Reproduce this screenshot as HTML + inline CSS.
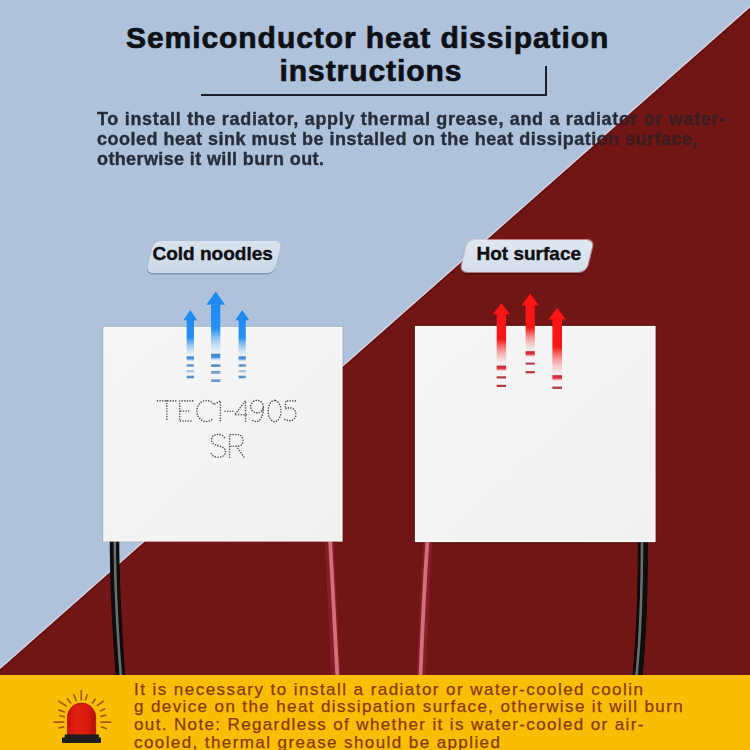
<!DOCTYPE html>
<html><head><meta charset="utf-8">
<style>
html,body{margin:0;padding:0;width:750px;height:750px;overflow:hidden;background:#aec3db;}
#wrap{position:relative;width:750px;height:750px;overflow:hidden;font-family:"Liberation Sans",sans-serif;}
svg.bg{position:absolute;left:0;top:0;}
.t{position:absolute;white-space:nowrap;line-height:1;}
.title{font-weight:bold;font-size:30px;color:#0e1117;letter-spacing:0.94px;-webkit-text-stroke:0.7px #0e1117;}
.para{font-weight:bold;font-size:18px;line-height:18px;white-space:nowrap;letter-spacing:0.68px;-webkit-text-stroke:0.4px transparent;}
.pill{position:absolute;height:32px;border-radius:7px;transform:skewX(-14deg);}
.lab{font-weight:bold;font-size:19px;color:#0d0f14;-webkit-text-stroke:0.4px #0d0f14;}
.ban{font-size:17px;color:#8a3908;letter-spacing:1.39px;-webkit-text-stroke:0.25px #8a3908;}
</style></head>
<body><div id="wrap">
<svg class="bg" width="750" height="750" viewBox="0 0 750 750">
  <defs>
    <filter id="blr2" x="-50%" y="-10%" width="200%" height="120%"><feGaussianBlur stdDeviation="0.4"/></filter>
    <filter id="blr" x="-50%" y="-5%" width="200%" height="110%"><feGaussianBlur stdDeviation="0.6"/></filter>
    <linearGradient id="gB" x1="0" y1="0" x2="0" y2="1">
      <stop offset="0" stop-color="#1e8af4"/><stop offset="0.5" stop-color="#2890f0"/><stop offset="1" stop-color="#9acbf8" stop-opacity="0.05"/>
    </linearGradient>
    <linearGradient id="gBd" x1="0" y1="0" x2="0" y2="1">
      <stop offset="0" stop-color="#4a82bb"/><stop offset="0.5" stop-color="#3d93e6"/><stop offset="1" stop-color="#8cc4f8" stop-opacity="0"/>
    </linearGradient>
    <linearGradient id="gR" x1="0" y1="0" x2="0" y2="1">
      <stop offset="0" stop-color="#ff1212"/><stop offset="0.5" stop-color="#f51818"/><stop offset="1" stop-color="#f8b0b0" stop-opacity="0.05"/>
    </linearGradient>
    <linearGradient id="gRd" x1="0" y1="0" x2="0" y2="1">
      <stop offset="0" stop-color="#b8283a"/><stop offset="0.5" stop-color="#e83040"/><stop offset="1" stop-color="#f8a0a0" stop-opacity="0"/>
    </linearGradient>
    <linearGradient id="gMod" x1="0" y1="0" x2="1" y2="1">
      <stop offset="0" stop-color="#f6f6f6"/><stop offset="1" stop-color="#f1f1f1"/>
    </linearGradient>
    <linearGradient id="gDome" x1="0" y1="0" x2="1" y2="0">
      <stop offset="0" stop-color="#c81408"/><stop offset="0.3" stop-color="#e0200e"/><stop offset="0.7" stop-color="#d81a0a"/><stop offset="1" stop-color="#b01008"/>
    </linearGradient>
  </defs>
  <rect x="0" y="0" width="750" height="750" fill="#aec3db"/>
  <polygon points="750,7.5 750,750 0,750 0,669.2" fill="#711515"/>
  <line x1="750" y1="6.6" x2="0" y2="668.3" stroke="#e6d3dc" stroke-width="1.3" opacity="0.8"/>
  <line x1="750" y1="8.8" x2="0" y2="670.5" stroke="#5a0c0c" stroke-width="1.5" opacity="0.55"/>

  <!-- header bracket -->
  <rect x="201" y="94" width="346" height="2" fill="#1b2030"/>
  <rect x="545" y="66" width="2" height="30" fill="#1b2030"/>

  <!-- wires -->
  <g filter="url(#blr)">
  <path d="M114.5,538 C114.5,590 117,630 120.5,676" stroke="#080808" stroke-width="9.5" fill="none"/>
  <path d="M114.8,538 C114.8,590 117.3,630 120.8,676" stroke="#6a6c6e" stroke-width="2.6" fill="none"/>
  <path d="M329,538 L336,676" stroke="#8a2029" stroke-width="9" fill="none" opacity="0.85"/>
  <path d="M330,538 L337.3,676" stroke="#d27078" stroke-width="3.8" fill="none"/>
  <path d="M428.2,538 Q424,600 421.5,676" stroke="#8a2029" stroke-width="9" fill="none" opacity="0.85"/>
  <path d="M427.6,538 Q423.4,600 420.5,676" stroke="#d27078" stroke-width="3.8" fill="none"/>
  <path d="M643,538 C643,600 641,640 637.5,676" stroke="#080808" stroke-width="10" fill="none"/>
  <path d="M642,538 C642,600 640,640 636.5,676" stroke="#6a6c6e" stroke-width="2.6" fill="none"/>
  </g>

  <!-- modules -->
  <rect x="103.3" y="326.8" width="239.2" height="214.5" fill="none" stroke="#000" stroke-opacity="0.18" stroke-width="1.5"/>
  <rect x="103.8" y="327.3" width="238.2" height="213.7" fill="url(#gMod)" stroke="#fbfbfb" stroke-width="1.2"/>
  <rect x="415" y="326" width="240.5" height="216" fill="none" stroke="#000" stroke-opacity="0.25" stroke-width="1.5"/>
  <rect x="415.5" y="326.5" width="239.5" height="215" fill="url(#gMod)" stroke="#fbfbfb" stroke-width="1.2"/>

  <!-- arrows -->
  <g filter="url(#blr2)">
  <path d="M190.3,309.9 L197.20,320.2 L183.40,320.2 Z" fill="#1f8cf3"/>
  <rect x="186.65" y="319.7" width="7.30" height="36.30" fill="url(#gB)"/>
  <rect x="186.65" y="356.3" width="7.30" height="5" fill="url(#gBd)" opacity="1"/>
  <rect x="186.65" y="364.3" width="7.30" height="2.4" fill="#4f86bd" opacity="0.9"/>
  <rect x="186.65" y="370" width="7.30" height="2.3" fill="#4f86bd" opacity="0.45"/>
  <rect x="186.65" y="375.7" width="7.30" height="2.6" fill="#4f86bd" opacity="0.9"/>
  <path d="M215.7,291.6 L225.00,304.8 L206.40,304.8 Z" fill="#1f8cf3"/>
  <rect x="211.05" y="304.3" width="9.30" height="49.20" fill="url(#gB)"/>
  <rect x="211.05" y="353.7" width="9.30" height="7" fill="url(#gBd)" opacity="1"/>
  <rect x="211.05" y="364.3" width="9.30" height="2.7" fill="#4f86bd" opacity="0.9"/>
  <rect x="211.05" y="371" width="9.30" height="2.7" fill="#4f86bd" opacity="0.8"/>
  <rect x="211.05" y="379.3" width="9.30" height="2.7" fill="#4f86bd" opacity="0.8"/>
  <path d="M242.2,310 L249.20,320.2 L235.20,320.2 Z" fill="#1f8cf3"/>
  <rect x="238.60" y="319.7" width="7.20" height="36.30" fill="url(#gB)"/>
  <rect x="238.60" y="356.3" width="7.20" height="5" fill="url(#gBd)" opacity="1"/>
  <rect x="238.60" y="364.3" width="7.20" height="2.4" fill="#4f86bd" opacity="0.9"/>
  <rect x="238.60" y="370" width="7.20" height="2.3" fill="#4f86bd" opacity="0.45"/>
  <rect x="238.60" y="375.7" width="7.20" height="2.6" fill="#4f86bd" opacity="0.9"/>
  <path d="M501.4,303.3 L510.20,314.3 L492.60,314.3 Z" fill="#ff1313"/>
  <rect x="496.70" y="313.8" width="9.40" height="51.70" fill="url(#gR)"/>
  <rect x="496.70" y="365.6" width="9.40" height="6" fill="url(#gRd)" opacity="1"/>
  <rect x="496.70" y="376.3" width="9.40" height="2.2" fill="#b22a3a" opacity="0.95"/>
  <rect x="496.70" y="384.8" width="9.40" height="2.2" fill="#b22a3a" opacity="0.95"/>
  <path d="M530.2,293.5 L538.90,305.5 L521.50,305.5 Z" fill="#ff1313"/>
  <rect x="525.60" y="305.0" width="9.20" height="46.20" fill="url(#gR)"/>
  <rect x="525.60" y="351.2" width="9.20" height="6" fill="url(#gRd)" opacity="1"/>
  <rect x="525.60" y="362.6" width="9.20" height="2" fill="#b22a3a" opacity="0.95"/>
  <rect x="525.60" y="371.1" width="9.20" height="2.2" fill="#b22a3a" opacity="0.95"/>
  <path d="M557.2,307.7 L566.00,319.5 L548.40,319.5 Z" fill="#ff1313"/>
  <rect x="552.40" y="319.0" width="9.60" height="56.20" fill="url(#gR)"/>
  <rect x="552.40" y="375.2" width="9.60" height="6" fill="url(#gRd)" opacity="1"/>
  <rect x="552.40" y="386.6" width="9.60" height="2.3" fill="#b22a3a" opacity="0.95"/>
  </g>

  <!-- dotted text -->
  <g fill="none" stroke="#555" stroke-width="1.6" stroke-linecap="round" stroke-dasharray="0.01 2.6">
    <path d="M157.5,400.9 H176.1 M166.9,400.9 V421.1"/>
    <path d="M192.7,400.9 H179.7 V421.1 H192.7 M181,411 H190.5"/>
    <path d="M213.1,403.6 A9.5,10.5 0 1 0 213.1,418.4"/>
    <path d="M215,404 L220.4,400.9 V421.1"/>
    <path d="M225,411.3 H233"/>
    <path d="M245.5,421.1 V400.9 L234.6,414.7 H249"/>
    <path d="M263.3,406.6 A6.3,6.3 0 1 0 250.7,406.6 A6.3,6.3 0 1 0 263.3,406.6 C263.6,415 260.5,421.6 256,421.6 C254.5,421.6 253,421 252.2,420"/>
    <path d="M274.6,400.4 A6.4,10.6 0 1 0 274.6,421.6 A6.4,10.6 0 1 0 274.6,400.4"/>
    <path d="M295.4,400.9 H285.8 L285.3,408.9 C290,406.5 296,408 295.9,414.7 C295.8,420 290,422.5 284.2,419"/>
    <path d="M224.5,437.5 C222.5,434.5 219,434.4 218,434.4 C214,434.4 211.5,436.5 211.5,440 C211.5,444 216,445 218.5,445.8 C222.5,447 225.5,448.5 225.5,451.5 C225.5,455.5 222,457.2 218.3,457.2 C215,457.2 212,456 211,453"/>
    <path d="M229.6,457.2 V434.6 H237 C241,434.6 243,437 243,440.5 C243,444 241,446.2 237,446.2 H229.6 M236.5,446.2 L244,457.2"/>
  </g>

  <!-- banner -->
  <rect x="0" y="675" width="750" height="75" fill="#f9be02"/>
  <!-- siren -->
  <g stroke="#ad5806" stroke-width="1.7" stroke-linecap="round">
    <path d="M81.3,690.7 V699.7 M73.8,694.9 L76.1,700.3 M87.1,694.9 L85.5,699.7 M67.4,698.7 L70.6,702.9 M58.9,701.3 L66.3,706.1 M95.1,699.2 L92.5,702.9 M103.1,701.3 L97.3,705.6 M58.9,709.9 L64.2,712 M104.7,708.8 L100.5,710.9 M59.9,715.7 L64.2,716.8 M105.8,715.2 L101,716.3 M54.1,722.1 H63.7 M101,722.1 H110.6 M58.9,728 L63.7,726.9 M101.5,726.9 L106.3,728.5"/>
  </g>
  <path d="M67.4,735.5 V717.2 A14.15,14.15 0 0 1 95.7,717.2 V735.5 Z" fill="url(#gDome)" stroke="#a81008" stroke-width="0.8"/>
  <rect x="64.7" y="734.4" width="34.2" height="4" fill="#1e1e1e"/>
  <rect x="62" y="737.5" width="39" height="5.5" fill="#1e1e1e"/>
</svg>

<div class="pill" style="left:150.3px;top:240.5px;width:127.5px;background:linear-gradient(#d9e3ee,#cbd7e5);box-shadow:0 1.5px 1px rgba(90,110,140,0.55);"></div>
<div class="pill" style="left:463.5px;top:240px;width:125.5px;background:linear-gradient(#e0e7f0,#d3dde9);box-shadow:0 0 0 1px rgba(255,215,225,0.55),0 2px 2px rgba(40,0,0,0.6);"></div>
<div class="t lab" style="left:152.5px;top:243.9px;">Cold noodles</div>
<div class="t lab" style="left:476.5px;top:243.9px;">Hot surface</div>

<div class="t title" style="left:126px;top:23.1px;">Semiconductor heat dissipation</div>
<div class="t title" style="left:279.5px;top:55.5px;">instructions</div>

<div id="pc" style="position:absolute;left:97px;top:110px;width:653px;height:80px;background:linear-gradient(138.6deg,#272c3a 47.2%,#3a1c20 47.6%);background-size:750px 750px;background-position:-97px -110px;-webkit-background-clip:text;background-clip:text;color:transparent;">
<div class="para" style="height:19.5px;">To install the radiator, apply thermal grease, and a radiator or water-</div>
<div class="para" style="height:20px;letter-spacing:0.495px;">cooled heat sink must be installed on the heat dissipation surface,</div>
<div class="para" style="letter-spacing:0.38px;">otherwise it will burn out.</div>
</div>

<div class="t ban" style="left:134px;top:681.1px;letter-spacing:1.45px;">It is necessary to install a radiator or water-cooled coolin</div>
<div class="t ban" style="left:134px;top:698.2px;">g device on the heat dissipation surface, otherwise it will burn</div>
<div class="t ban" style="left:134px;top:716.4px;letter-spacing:1.37px;">out. Note: Regardless of whether it is water-cooled or air-</div>
<div class="t ban" style="left:134px;top:733.9px;letter-spacing:1.41px;">cooled, thermal grease should be applied</div>

</div></body></html>
